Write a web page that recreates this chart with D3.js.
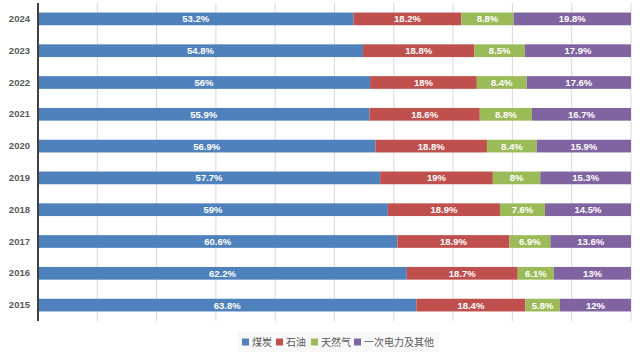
<!DOCTYPE html>
<html>
<head>
<meta charset="utf-8">
<script src="https://cdn.jsdelivr.net/npm/d3@7"></script>
<style>
  body { margin: 0; background: #fff; }
  svg { display: block; font-family: "Noto Sans CJK SC", "Noto Sans", sans-serif; }
</style>
</head>
<body>
<script>
const width = 642;
const height = 354;

const margin = { left: 38, right: 11, top: 3, bottom: 33 };

// data
const years = ["2024", "2023", "2022", "2021", "2020", "2019", "2018", "2017", "2016", "2015"];
const seriesNames = ["煤炭", "石油", "天然气", "一次电力及其他"];
const coal = [53.2, 54.8, 56, 55.9, 56.9, 57.7, 59, 60.6, 62.2, 63.8];
const oil = [18.2, 18.8, 18, 18.6, 18.8, 19, 18.9, 18.9, 18.7, 18.4];
const gas = [8.8, 8.5, 8.4, 8.8, 8.4, 8, 7.6, 6.9, 6.1, 5.8];
const other = [19.8, 17.9, 17.6, 16.7, 15.9, 15.3, 14.5, 13.6, 13, 12];
const colors = ["#4f81bd", "#c0504d", "#9bbb59", "#8064a2"];

const rows = years.map((y, i) => ({
    year: y,
    "煤炭": coal[i],
    "石油": oil[i],
    "天然气": gas[i],
    "一次电力及其他": other[i]
}));

const stacked = d3.stack().keys(seriesNames)(rows);

let svg = d3.select("body").append("svg")
    .attr("width", width)
    .attr("height", height);

let xScale = d3.scaleLinear()
    .domain([0, 100])
    .range([margin.left, width - margin.right]);

let yScale = d3.scaleBand()
    .domain(years)
    .range([margin.top, height - margin.bottom])
    .paddingInner(0.6)
    .paddingOuter(0.3);

// gridlines
svg.append("g")
    .selectAll("line")
    .data(xScale.ticks(10).slice(1))
    .join("line")
    .attr("x1", d => xScale(d))
    .attr("x2", d => xScale(d))
    .attr("y1", margin.top)
    .attr("y2", height - margin.bottom)
    .attr("stroke", "#d9d9d9")
    .attr("stroke-width", 1);

// bars
let groups = svg.append("g")
    .selectAll("g")
    .data(stacked)
    .join("g")
    .attr("fill", (d, i) => colors[i]);

groups.selectAll("rect")
    .data(d => d)
    .join("rect")
    .attr("x", d => xScale(d[0]))
    .attr("y", d => yScale(d.data.year))
    .attr("width", d => xScale(d[1]) - xScale(d[0]))
    .attr("height", yScale.bandwidth());

// labels
groups.selectAll("text")
    .data(d => d.map(v => ({ v, key: d.key })))
    .join("text")
    .attr("x", d => (xScale(d.v[0]) + xScale(d.v[1])) / 2)
    .attr("y", d => yScale(d.v.data.year) + yScale.bandwidth() / 2)
    .attr("dy", "0.36em")
    .attr("text-anchor", "middle")
    .attr("fill", "#fff")
    .style("font-size", "9.5px")
    .style("font-weight", "bold")
    .style("font-family", "'Liberation Sans', Arial, sans-serif")
    .text(d => d.v.data[d.key] + "%");

// y axis
let yAxis = svg.append("g")
    .attr("transform", `translate(${margin.left},0)`)
    .call(d3.axisLeft(yScale).tickSize(0).tickPadding(8));

yAxis.select(".domain")
    .attr("d", `M0,${margin.top}V${height - margin.bottom}`)
    .attr("stroke", "#404040")
    .attr("stroke-width", 2);

yAxis.selectAll("text")
    .attr("fill", "#595959")
    .style("font-size", "9.5px")
    .style("font-weight", "bold")
    .style("font-family", "'Liberation Sans', Arial, sans-serif");

// legend
let legend = svg.append("g")
    .attr("transform", "translate(238,332)");

legend.append("rect")
    .attr("width", 201)
    .attr("height", 20)
    .attr("fill", "#f8f8f8");

const legendX = [4, 38, 73, 116];
let items = legend.selectAll(".item")
    .data(seriesNames)
    .join("g")
    .attr("class", "item")
    .attr("transform", (d, i) => `translate(${legendX[i]},0)`);

items.append("rect")
    .attr("y", 6.5)
    .attr("width", 7)
    .attr("height", 7)
    .attr("fill", (d, i) => colors[i]);

items.append("text")
    .attr("x", 10)
    .attr("y", 10)
    .attr("dy", "0.35em")
    .attr("fill", "#595959")
    .style("font-size", "10px")
    .text(d => d);
</script>
</body>
</html>
